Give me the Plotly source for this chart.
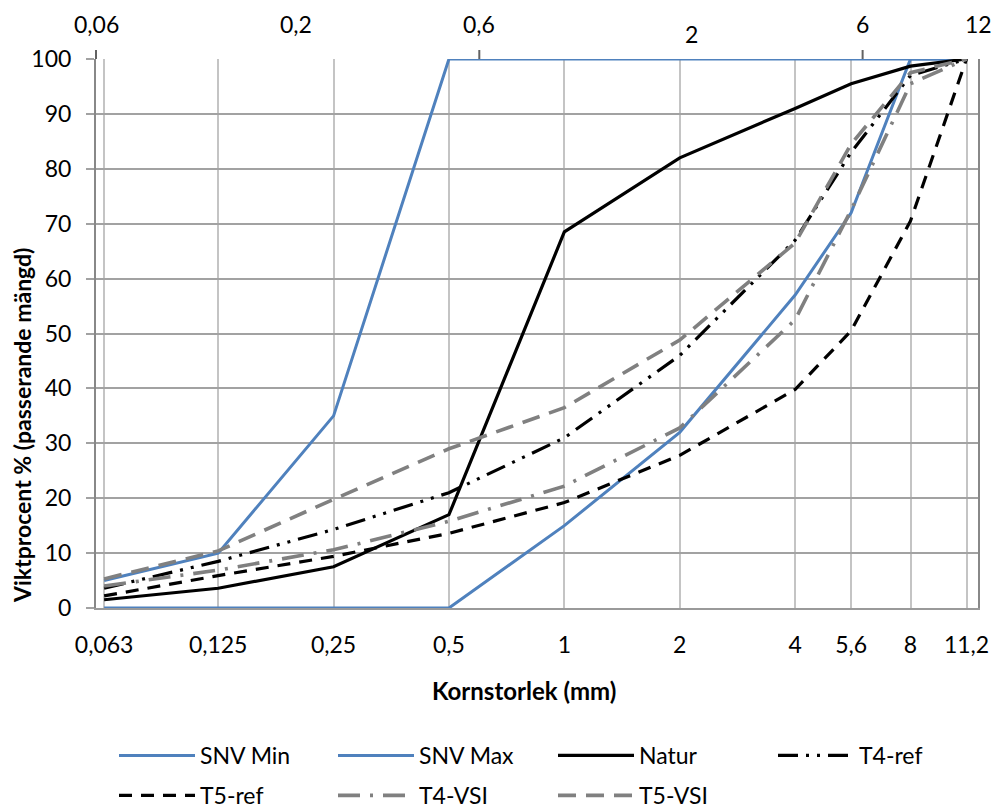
import math
import plotly.graph_objects as go

# Sieve sizes (mm) and cumulative passing (%) per material
sieves = [0.063, 0.125, 0.25, 0.5, 1, 2, 4, 5.6, 8, 11.2]
sieve_labels = ["0,063", "0,125", "0,25", "0,5", "1", "2", "4", "5,6", "8", "11,2"]

snv_min = [0, 0, 0, 0, 15, 32, 57, 72, 100, 100]
snv_max = [5, 10, 35, 100, 100, 100, 100, 100, 100, 100]
natur = [1.5, 3.6, 7.5, 17, 68.5, 82, 91, 95.5, 98.7, 100]
t4_ref = [3.6, 8.5, 14.3, 21, 31, 46, 67, 83, 97, 100]
t5_ref = [2.2, 5.9, 9.4, 13.6, 19.2, 27.8, 39.8, 50.5, 70.5, 100]
t4_vsi = [4, 6.9, 10.6, 15.8, 22.2, 32.8, 52.5, 72.5, 95.5, 100]
t5_vsi = [5.3, 10.4, 19.8, 29, 36.5, 48.8, 66.5, 84.5, 97.5, 100]

# Secondary (top) scale
top_vals = [0.06, 0.2, 0.6, 2, 6, 12]
top_labels = ["0,06", "0,2", "0,6", "2", "6", "12"]

FONT = "Lato"
FS = 23
BLUE = "#4F81BD"
GREY = "#808080"

X_MIN, X_MAX = 0.06, 12
PLOT_L, PLOT_R, PLOT_T, PLOT_B = 96, 978, 59, 608
PLOT_W, PLOT_H = PLOT_R - PLOT_L, PLOT_B - PLOT_T


def xfrac(v):
    return (math.log10(v) - math.log10(X_MIN)) / (math.log10(X_MAX) - math.log10(X_MIN))


def px_x(p):
    return (p - PLOT_L) / PLOT_W


def px_y(p):
    return (PLOT_B - p) / PLOT_H


# name, values, line style, legend column
series = [
    ("SNV Min", snv_min, dict(color=BLUE, width=3), "legend"),
    ("SNV Max", snv_max, dict(color=BLUE, width=3), "legend2"),
    ("Natur", natur, dict(color="black", width=3.2), "legend3"),
    ("T4-ref", t4_ref, dict(color="black", width=3.2, dash="20px,8px,3px,8px,3px,8px"), "legend4"),
    ("T5-ref", t5_ref, dict(color="black", width=3.2, dash="13px,9px"), "legend"),
    ("T4-VSI", t4_vsi, dict(color=GREY, width=3.6, dash="22px,10px,3px,10px"), "legend2"),
    ("T5-VSI", t5_vsi, dict(color=GREY, width=3.6, dash="18px,10px"), "legend3"),
]

fig = go.Figure()
for name, vals, line, leg in series:
    fig.add_trace(go.Scatter(x=sieves, y=vals, mode="lines", name=name,
                             line=line, legend=leg, legendgroup=name))

x_range = [math.log10(X_MIN), math.log10(X_MAX)]

legend_cols = {"legend": 114, "legend2": 333, "legend3": 553, "legend4": 773}
legends = {
    key: dict(orientation="v", x=px_x(p), xanchor="left",
              y=px_y(734), yanchor="top",
              itemwidth=76, tracegroupgap=7, font=dict(size=FS),
              bgcolor="rgba(0,0,0,0)")
    for key, p in legend_cols.items()
}

fig.update_layout(
    width=994, height=810,
    margin=dict(l=PLOT_L, r=994 - PLOT_R, t=PLOT_T, b=810 - PLOT_B, autoexpand=False),
    paper_bgcolor="white", plot_bgcolor="white",
    font=dict(family=FONT, size=FS, color="black"),
    xaxis=dict(
        type="log", range=x_range,
        tickmode="array", tickvals=sieves, ticktext=sieve_labels,
        showgrid=True, gridcolor="#C4C4C4", gridwidth=2,
        showline=True, linecolor="#9A9A9A", linewidth=2,
        ticks="", ticklabelstandoff=15,
        zeroline=False,
    ),
    xaxis2=dict(
        type="log", range=x_range, overlaying="x", side="top", anchor="y",
        tickmode="array", tickvals=top_vals, ticktext=top_labels,
        showticklabels=False, ticks="",
        showgrid=True, gridcolor="#626262", gridwidth=2,
        showline=False, zeroline=False,
    ),
    yaxis=dict(
        range=[0, 100], dtick=10, tick0=0,
        showgrid=True, gridcolor="#A2A2A2", gridwidth=2,
        showline=True, linecolor="#888888", linewidth=2, mirror=True,
        ticks="outside", ticklen=8, tickwidth=2, tickcolor="#A2A2A2",
        ticklabelstandoff=10,
        zeroline=False,
    ),
    **legends,
)

# Top scale labels
for v, lab in zip(top_vals, top_labels):
    stagger = lab == "2"
    fig.add_annotation(x=xfrac(v), xref="paper", y=1, yref="paper",
                       text=lab, showarrow=False, xanchor="center", yanchor="bottom",
                       xshift=12 if stagger else 0,
                       yshift=9 if stagger else 19,
                       font=dict(family=FONT, size=FS))

# Short tick marks above the frame on the main top divisions
for v in [0.06, 0.6, 6]:
    fig.add_shape(type="line", xref="paper", yref="paper",
                  x0=xfrac(v), x1=xfrac(v), y0=1, y1=1 + 9 / PLOT_H,
                  line=dict(color="#626262", width=2))

# Axis titles
fig.add_annotation(x=px_x(524), xref="paper", y=px_y(690), yref="paper",
                   text="<b>Kornstorlek (mm)</b>", showarrow=False,
                   xanchor="center", yanchor="middle", font=dict(family=FONT, size=24))
fig.add_annotation(x=px_x(22), xref="paper", y=px_y(426), yref="paper",
                   text="<b>Viktprocent % (passerande mängd)</b>", showarrow=False,
                   textangle=-90, xanchor="center", yanchor="middle",
                   font=dict(family=FONT, size=23))

fig.write_html("out.html")
